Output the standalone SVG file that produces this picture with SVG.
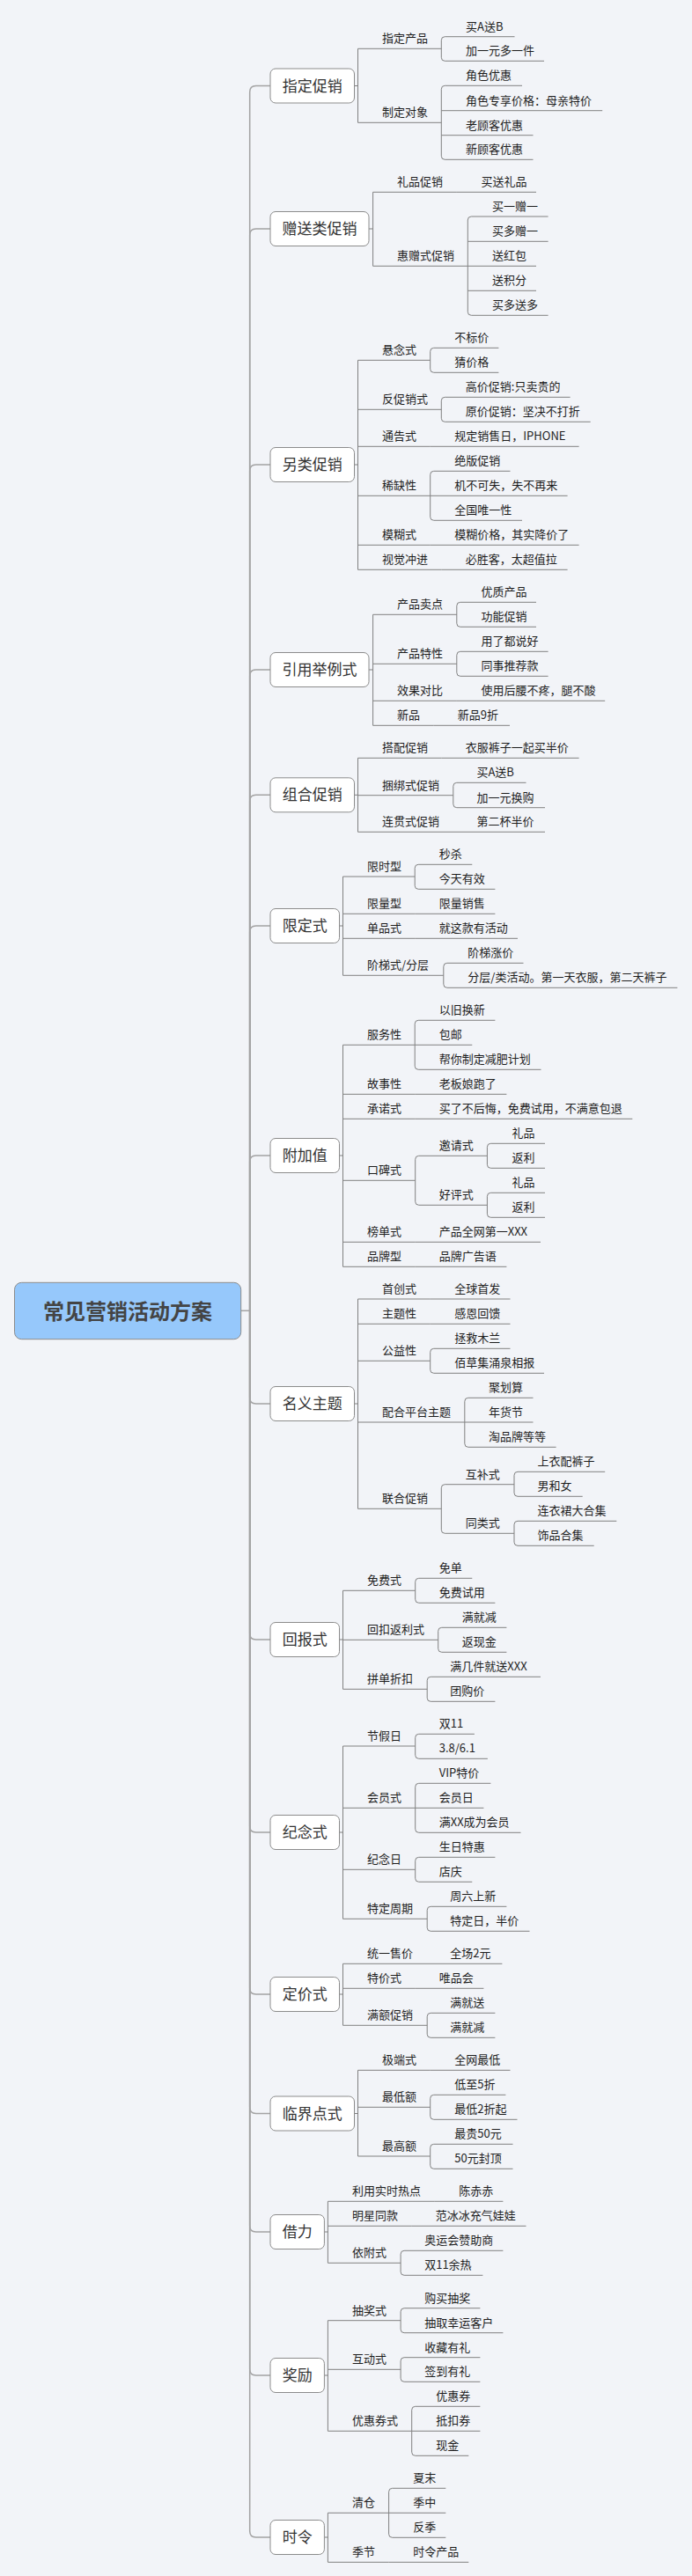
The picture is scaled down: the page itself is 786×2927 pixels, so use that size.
<svg xmlns="http://www.w3.org/2000/svg" width="786" height="2927" viewBox="0 0 786 2927">
<style>
.bg{fill:#f2f4f8}
.m{fill:none;stroke:#a3a3a3;stroke-width:1.5}
.c{fill:none;stroke:#808080;stroke-width:1}
.u{fill:none;stroke:#808080;stroke-width:1}
.box{fill:#ffffff;stroke:#8c8c8c;stroke-width:1}
.rootbox{fill:#96c8fb;stroke:#8c8c8c;stroke-width:1}
text{font-family:"Noto Sans CJK SC","Noto Sans",sans-serif}
.t{font-size:13px;fill:#1e1e1e}
.mt{font-size:17px;fill:#333333;text-anchor:middle}
.rt{font-size:24px;font-weight:bold;fill:#444444;text-anchor:middle}
</style>
<rect class="bg" x="0" y="0" width="786" height="2927"/>
<g id="connectors">
<path class="m" d="M273.7 1489.3H283.7"/>
<path class="m" d="M283.7 1489.3V104.5Q283.7 97.5 290.7 97.5H307"/>
<path class="m" d="M283.7 1489.3V267Q283.7 260 290.7 260H307"/>
<path class="m" d="M283.7 1489.3V535Q283.7 528 290.7 528H307"/>
<path class="m" d="M283.7 1489.3V768Q283.7 761 290.7 761H307"/>
<path class="m" d="M283.7 1489.3V910.3Q283.7 903.3 290.7 903.3H307"/>
<path class="m" d="M283.7 1489.3V1059Q283.7 1052 290.7 1052H307"/>
<path class="m" d="M283.7 1489.3V1320Q283.7 1313 290.7 1313H307"/>
<path class="m" d="M283.7 1489.3V1588Q283.7 1595 290.7 1595H307"/>
<path class="m" d="M283.7 1489.3V1856Q283.7 1863 290.7 1863H307"/>
<path class="m" d="M283.7 1489.3V2075Q283.7 2082 290.7 2082H307"/>
<path class="m" d="M283.7 1489.3V2259Q283.7 2266 290.7 2266H307"/>
<path class="m" d="M283.7 1489.3V2394.5Q283.7 2401.5 290.7 2401.5H307"/>
<path class="m" d="M283.7 1489.3V2529Q283.7 2536 290.7 2536H307"/>
<path class="m" d="M283.7 1489.3V2692Q283.7 2699 290.7 2699H307"/>
<path class="m" d="M283.7 1489.3V2876Q283.7 2883 290.7 2883H307"/>
<path class="c" d="M402.5 97.5H406.5M406.5 55.3V139.3"/>
<path class="c" d="M419 260H423.6M423.6 218.3V302.3"/>
<path class="c" d="M402.5 528H406.5M406.5 409.3V647.3"/>
<path class="c" d="M419 761H423.6M423.6 698.3V824.3"/>
<path class="c" d="M402.5 903.3H406.5M406.5 861.3V945.3"/>
<path class="c" d="M385.5 1052H389.5M389.5 996V1108.3"/>
<path class="c" d="M385.5 1313H389.5M389.5 1187.3V1439.3"/>
<path class="c" d="M402.5 1595H406.5M406.5 1476V1714.3"/>
<path class="c" d="M385.5 1863H389.5M389.5 1807.3V1919.3"/>
<path class="c" d="M385.5 2082H389.5M389.5 1984V2180.3"/>
<path class="c" d="M385.5 2266H389.5M389.5 2231.3V2301.3"/>
<path class="c" d="M402.5 2401.5H406.5M406.5 2352.3V2450"/>
<path class="c" d="M368.4 2536H372.4M372.4 2501.3V2571.3"/>
<path class="c" d="M368.4 2699H372.4M372.4 2636.7V2762.3"/>
<path class="c" d="M368.4 2883H372.4M372.4 2855.3V2911.3"/>
<path class="c" d="M505.3 41.7Q501.3 41.7 501.3 45.7V65.3Q501.3 69.3 505.3 69.3"/>
<path class="c" d="M505.3 97.3Q501.3 97.3 501.3 101.3V177.3Q501.3 181.3 505.3 181.3"/>
<path class="c" d="M535.3 246Q531.3 246 531.3 250V354.3Q531.3 358.3 535.3 358.3"/>
<path class="c" d="M492.7 395.3Q488.7 395.3 488.7 399.3V419.3Q488.7 423.3 492.7 423.3"/>
<path class="c" d="M505.3 451.3Q501.3 451.3 501.3 455.3V475.3Q501.3 479.3 505.3 479.3"/>
<path class="c" d="M492.7 535.3Q488.7 535.3 488.7 539.3V587.3Q488.7 591.3 492.7 591.3"/>
<path class="c" d="M522.8 684.3Q518.8 684.3 518.8 688.3V708.3Q518.8 712.3 522.8 712.3"/>
<path class="c" d="M522.8 740.3Q518.8 740.3 518.8 744.3V764.3Q518.8 768.3 522.8 768.3"/>
<path class="c" d="M518.8 889.3Q514.8 889.3 514.8 893.3V913.7Q514.8 917.7 518.8 917.7"/>
<path class="c" d="M475.2 982.3Q471.2 982.3 471.2 986.3V1006.3Q471.2 1010.3 475.2 1010.3"/>
<path class="c" d="M507.8 1094.3Q503.8 1094.3 503.8 1098.3V1118.3Q503.8 1122.3 507.8 1122.3"/>
<path class="c" d="M475.2 1159.3Q471.2 1159.3 471.2 1163.3V1211.3Q471.2 1215.3 475.2 1215.3"/>
<path class="c" d="M475.7 1313.3Q471.7 1313.3 471.7 1317.3V1365.3Q471.7 1369.3 475.7 1369.3"/>
<path class="c" d="M557.4 1299.3Q553.4 1299.3 553.4 1303.3V1323.3Q553.4 1327.3 557.4 1327.3"/>
<path class="c" d="M557.4 1355.3Q553.4 1355.3 553.4 1359.3V1379.3Q553.4 1383.3 557.4 1383.3"/>
<path class="c" d="M492.7 1532.3Q488.7 1532.3 488.7 1536.3V1556.3Q488.7 1560.3 492.7 1560.3"/>
<path class="c" d="M531.8 1588.3Q527.8 1588.3 527.8 1592.3V1640.3Q527.8 1644.3 531.8 1644.3"/>
<path class="c" d="M505.3 1686.7Q501.3 1686.7 501.3 1690.7V1738.3Q501.3 1742.3 505.3 1742.3"/>
<path class="c" d="M588 1672.3Q584 1672.3 584 1676.3V1696.3Q584 1700.3 588 1700.3"/>
<path class="c" d="M588 1728.3Q584 1728.3 584 1732.3V1752.3Q584 1756.3 588 1756.3"/>
<path class="c" d="M475.7 1793.3Q471.7 1793.3 471.7 1797.3V1817.3Q471.7 1821.3 475.7 1821.3"/>
<path class="c" d="M501.7 1849.3Q497.7 1849.3 497.7 1853.3V1873.3Q497.7 1877.3 501.7 1877.3"/>
<path class="c" d="M489.2 1905.3Q485.2 1905.3 485.2 1909.3V1929.3Q485.2 1933.3 489.2 1933.3"/>
<path class="c" d="M475.7 1970.3Q471.7 1970.3 471.7 1974.3V1994.3Q471.7 1998.3 475.7 1998.3"/>
<path class="c" d="M475.7 2026.3Q471.7 2026.3 471.7 2030.3V2078.3Q471.7 2082.3 475.7 2082.3"/>
<path class="c" d="M475.7 2110.3Q471.7 2110.3 471.7 2114.3V2134.3Q471.7 2138.3 475.7 2138.3"/>
<path class="c" d="M489.2 2166.3Q485.2 2166.3 485.2 2170.3V2190.3Q485.2 2194.3 489.2 2194.3"/>
<path class="c" d="M489.2 2287.3Q485.2 2287.3 485.2 2291.3V2311.3Q485.2 2315.3 489.2 2315.3"/>
<path class="c" d="M492.7 2380.3Q488.7 2380.3 488.7 2384.3V2404.3Q488.7 2408.3 492.7 2408.3"/>
<path class="c" d="M492.7 2436.3Q488.7 2436.3 488.7 2440.3V2460.3Q488.7 2464.3 492.7 2464.3"/>
<path class="c" d="M459.1 2557.3Q455.1 2557.3 455.1 2561.3V2581.3Q455.1 2585.3 459.1 2585.3"/>
<path class="c" d="M459.1 2622.7Q455.1 2622.7 455.1 2626.7V2646.7Q455.1 2650.7 459.1 2650.7"/>
<path class="c" d="M459.1 2678.7Q455.1 2678.7 455.1 2682.7V2702.3Q455.1 2706.3 459.1 2706.3"/>
<path class="c" d="M471.7 2734.3Q467.7 2734.3 467.7 2738.3V2786.3Q467.7 2790.3 471.7 2790.3"/>
<path class="c" d="M445.6 2827.3Q441.6 2827.3 441.6 2831.3V2879.3Q441.6 2883.3 445.6 2883.3"/>
</g>
<g id="root"><rect class="rootbox" x="16.5" y="1457.3" width="257.2" height="64.4" rx="8"/><text class="rt" x="145.1" y="1498.5">常见营销活动方案</text></g>
<g id="b1"><rect class="box" x="307" y="78" width="95.5" height="39" rx="6"/><text class="mt" x="354.8" y="103.5">指定促销</text></g>
<g id="b2"><rect class="box" x="307" y="240.5" width="112" height="39" rx="6"/><text class="mt" x="363" y="266">赠送类促销</text></g>
<g id="b3"><rect class="box" x="307" y="508.5" width="95.5" height="39" rx="6"/><text class="mt" x="354.8" y="534">另类促销</text></g>
<g id="b4"><rect class="box" x="307" y="741.5" width="112" height="39" rx="6"/><text class="mt" x="363" y="767">引用举例式</text></g>
<g id="b5"><rect class="box" x="307" y="883.8" width="95.5" height="39" rx="6"/><text class="mt" x="354.8" y="909.3">组合促销</text></g>
<g id="b6"><rect class="box" x="307" y="1032.5" width="78.5" height="39" rx="6"/><text class="mt" x="346.3" y="1058">限定式</text></g>
<g id="b7"><rect class="box" x="307" y="1293.5" width="78.5" height="39" rx="6"/><text class="mt" x="346.3" y="1319">附加值</text></g>
<g id="b8"><rect class="box" x="307" y="1575.5" width="95.5" height="39" rx="6"/><text class="mt" x="354.8" y="1601">名义主题</text></g>
<g id="b9"><rect class="box" x="307" y="1843.5" width="78.5" height="39" rx="6"/><text class="mt" x="346.3" y="1869">回报式</text></g>
<g id="b10"><rect class="box" x="307" y="2062.5" width="78.5" height="39" rx="6"/><text class="mt" x="346.3" y="2088">纪念式</text></g>
<g id="b11"><rect class="box" x="307" y="2246.5" width="78.5" height="39" rx="6"/><text class="mt" x="346.3" y="2272">定价式</text></g>
<g id="b12"><rect class="box" x="307" y="2382" width="95.5" height="39" rx="6"/><text class="mt" x="354.8" y="2407.5">临界点式</text></g>
<g id="b13"><rect class="box" x="307" y="2516.5" width="61.4" height="39" rx="6"/><text class="mt" x="337.7" y="2542">借力</text></g>
<g id="b14"><rect class="box" x="307" y="2679.5" width="61.4" height="39" rx="6"/><text class="mt" x="337.7" y="2705">奖励</text></g>
<g id="b15"><rect class="box" x="307" y="2863.5" width="61.4" height="39" rx="6"/><text class="mt" x="337.7" y="2889">时令</text></g>

<g id="n1-1"><path class="u" d="M406.5 55.3H501.3"/><text class="t" x="434" y="48.3">指定产品</text></g>
<g id="n1-1-1"><path class="u" d="M505.3 41.7H584.5"/><text class="t" x="529" y="34.7">买A送B</text></g>
<g id="n1-1-2"><path class="u" d="M505.3 69.3H618"/><text class="t" x="529" y="62.3">加一元多一件</text></g>
<g id="n1-2"><path class="u" d="M406.5 139.3H501.3"/><text class="t" x="434" y="132.3">制定对象</text></g>
<g id="n1-2-1"><path class="u" d="M505.3 97.3H593"/><text class="t" x="529" y="90.3">角色优惠</text></g>
<g id="n1-2-2"><path class="u" d="M501.3 125.7H684.2"/><text class="t" x="529" y="118.7">角色专享价格：母亲特价</text></g>
<g id="n1-2-3"><path class="u" d="M501.3 153.7H605.5"/><text class="t" x="529" y="146.7">老顾客优惠</text></g>
<g id="n1-2-4"><path class="u" d="M505.3 181.3H605.5"/><text class="t" x="529" y="174.3">新顾客优惠</text></g>

<g id="n2-1"><path class="u" d="M423.6 218.3H518.9"/><text class="t" x="451" y="211.3">礼品促销</text></g>
<g id="n2-1-1"><path class="u" d="M518.9 218.3H609"/><text class="t" x="546.4" y="211.3">买送礼品</text></g>
<g id="n2-2"><path class="u" d="M423.6 302.3H531.3"/><text class="t" x="451" y="295.3">惠赠式促销</text></g>
<g id="n2-2-1"><path class="u" d="M535.3 246H622.6"/><text class="t" x="559" y="239">买一赠一</text></g>
<g id="n2-2-2"><path class="u" d="M531.3 274.3H622.6"/><text class="t" x="559" y="267.3">买多赠一</text></g>
<g id="n2-2-3"><path class="u" d="M531.3 302.3H609"/><text class="t" x="559" y="295.3">送红包</text></g>
<g id="n2-2-4"><path class="u" d="M531.3 330.3H609"/><text class="t" x="559" y="323.3">送积分</text></g>
<g id="n2-2-5"><path class="u" d="M535.3 358.3H622.6"/><text class="t" x="559" y="351.3">买多送多</text></g>

<g id="n3-1"><path class="u" d="M406.5 409.3H488.7"/><text class="t" x="434" y="402.3">悬念式</text></g>
<g id="n3-1-1"><path class="u" d="M492.7 395.3H566.4"/><text class="t" x="516.3" y="388.3">不标价</text></g>
<g id="n3-1-2"><path class="u" d="M492.7 423.3H566.4"/><text class="t" x="516.3" y="416.3">猜价格</text></g>
<g id="n3-2"><path class="u" d="M406.5 465.3H501.3"/><text class="t" x="434" y="458.3">反促销式</text></g>
<g id="n3-2-1"><path class="u" d="M505.3 451.3H647.6"/><text class="t" x="528.8" y="444.3">高价促销:只卖贵的</text></g>
<g id="n3-2-2"><path class="u" d="M505.3 479.3H670.7"/><text class="t" x="528.8" y="472.3">原价促销：坚决不打折</text></g>
<g id="n3-3"><path class="u" d="M406.5 507.3H488.8"/><text class="t" x="434" y="500.3">通告式</text></g>
<g id="n3-3-1"><path class="u" d="M488.8 507.3H657.6"/><text class="t" x="516.3" y="500.3">规定销售日，IPHONE</text></g>
<g id="n3-4"><path class="u" d="M406.5 563.3H488.7"/><text class="t" x="434" y="556.3">稀缺性</text></g>
<g id="n3-4-1"><path class="u" d="M492.7 535.3H579.5"/><text class="t" x="516.3" y="528.3">绝版促销</text></g>
<g id="n3-4-2"><path class="u" d="M488.7 563.3H644.6"/><text class="t" x="516.3" y="556.3">机不可失，失不再来</text></g>
<g id="n3-4-3"><path class="u" d="M492.7 591.3H593"/><text class="t" x="516.3" y="584.3">全国唯一性</text></g>
<g id="n3-5"><path class="u" d="M406.5 619.3H488.8"/><text class="t" x="434" y="612.3">模糊式</text></g>
<g id="n3-5-1"><path class="u" d="M488.8 619.3H657.6"/><text class="t" x="516.3" y="612.3">模糊价格，其实降价了</text></g>
<g id="n3-6"><path class="u" d="M406.5 647.3H501.3"/><text class="t" x="434" y="640.3">视觉冲进</text></g>
<g id="n3-6-1"><path class="u" d="M501.3 647.3H644.6"/><text class="t" x="528.8" y="640.3">必胜客，太超值拉</text></g>

<g id="n4-1"><path class="u" d="M423.6 698.3H518.8"/><text class="t" x="451" y="691.3">产品卖点</text></g>
<g id="n4-1-1"><path class="u" d="M522.8 684.3H609"/><text class="t" x="546.4" y="677.3">优质产品</text></g>
<g id="n4-1-2"><path class="u" d="M522.8 712.3H609"/><text class="t" x="546.4" y="705.3">功能促销</text></g>
<g id="n4-2"><path class="u" d="M423.6 754.3H518.8"/><text class="t" x="451" y="747.3">产品特性</text></g>
<g id="n4-2-1"><path class="u" d="M522.8 740.3H622.6"/><text class="t" x="546.4" y="733.3">用了都说好</text></g>
<g id="n4-2-2"><path class="u" d="M522.8 768.3H622.6"/><text class="t" x="546.4" y="761.3">同事推荐款</text></g>
<g id="n4-3"><path class="u" d="M423.6 796.3H518.9"/><text class="t" x="451" y="789.3">效果对比</text></g>
<g id="n4-3-1"><path class="u" d="M518.9 796.3H687.2"/><text class="t" x="546.4" y="789.3">使用后腰不疼，腿不酸</text></g>
<g id="n4-4"><path class="u" d="M423.6 824.3H492.3"/><text class="t" x="451" y="817.3">新品</text></g>
<g id="n4-4-1"><path class="u" d="M492.3 824.3H579"/><text class="t" x="519.8" y="817.3">新品9折</text></g>

<g id="n5-1"><path class="u" d="M406.5 861.3H501.3"/><text class="t" x="434" y="854.3">搭配促销</text></g>
<g id="n5-1-1"><path class="u" d="M501.3 861.3H657.6"/><text class="t" x="528.8" y="854.3">衣服裤子一起买半价</text></g>
<g id="n5-2"><path class="u" d="M406.5 903.7H514.8"/><text class="t" x="434" y="896.7">捆绑式促销</text></g>
<g id="n5-2-1"><path class="u" d="M518.8 889.3H597.5"/><text class="t" x="541.4" y="882.3">买A送B</text></g>
<g id="n5-2-2"><path class="u" d="M518.8 917.7H619"/><text class="t" x="541.4" y="910.7">加一元换购</text></g>
<g id="n5-3"><path class="u" d="M406.5 945.3H514"/><text class="t" x="434" y="938.3">连贯式促销</text></g>
<g id="n5-3-1"><path class="u" d="M514 945.3H619"/><text class="t" x="541.4" y="938.3">第二杯半价</text></g>

<g id="n6-1"><path class="u" d="M389.5 996H471.2"/><text class="t" x="417" y="989">限时型</text></g>
<g id="n6-1-1"><path class="u" d="M475.2 982.3H536.3"/><text class="t" x="498.7" y="975.3">秒杀</text></g>
<g id="n6-1-2"><path class="u" d="M475.2 1010.3H562.4"/><text class="t" x="498.7" y="1003.3">今天有效</text></g>
<g id="n6-2"><path class="u" d="M389.5 1038.3H471.2"/><text class="t" x="417" y="1031.3">限量型</text></g>
<g id="n6-2-1"><path class="u" d="M471.2 1038.3H562.4"/><text class="t" x="498.7" y="1031.3">限量销售</text></g>
<g id="n6-3"><path class="u" d="M389.5 1066.3H471.2"/><text class="t" x="417" y="1059.3">单品式</text></g>
<g id="n6-3-1"><path class="u" d="M471.2 1066.3H588"/><text class="t" x="498.7" y="1059.3">就这款有活动</text></g>
<g id="n6-4"><path class="u" d="M389.5 1108.3H503.8"/><text class="t" x="417" y="1101.3">阶梯式/分层</text></g>
<g id="n6-4-1"><path class="u" d="M507.8 1094.3H594.5"/><text class="t" x="531.3" y="1087.3">阶梯涨价</text></g>
<g id="n6-4-2"><path class="u" d="M507.8 1122.3H769.4"/><text class="t" x="531.3" y="1115.3">分层/类活动。第一天衣服，第二天裤子</text></g>

<g id="n7-1"><path class="u" d="M389.5 1187.3H471.2"/><text class="t" x="417" y="1180.3">服务性</text></g>
<g id="n7-1-1"><path class="u" d="M475.2 1159.3H562.4"/><text class="t" x="498.7" y="1152.3">以旧换新</text></g>
<g id="n7-1-2"><path class="u" d="M471.2 1187.3H536.3"/><text class="t" x="498.7" y="1180.3">包邮</text></g>
<g id="n7-1-3"><path class="u" d="M475.2 1215.3H614.5"/><text class="t" x="498.7" y="1208.3">帮你制定减肥计划</text></g>
<g id="n7-2"><path class="u" d="M389.5 1243.3H471.2"/><text class="t" x="417" y="1236.3">故事性</text></g>
<g id="n7-2-1"><path class="u" d="M471.2 1243.3H575.4"/><text class="t" x="498.7" y="1236.3">老板娘跑了</text></g>
<g id="n7-3"><path class="u" d="M389.5 1271.3H471.2"/><text class="t" x="417" y="1264.3">承诺式</text></g>
<g id="n7-3-1"><path class="u" d="M471.2 1271.3H718.3"/><text class="t" x="498.7" y="1264.3">买了不后悔，免费试用，不满意包退</text></g>
<g id="n7-4"><path class="u" d="M389.5 1341.3H471.7"/><text class="t" x="417" y="1334.3">口碑式</text></g>
<g id="n7-4-1"><path class="u" d="M475.7 1313.3H553.4"/><text class="t" x="498.7" y="1306.3">邀请式</text></g>
<g id="n7-4-1-1"><path class="u" d="M557.4 1299.3H619"/><text class="t" x="581.5" y="1292.3">礼品</text></g>
<g id="n7-4-1-2"><path class="u" d="M557.4 1327.3H619"/><text class="t" x="581.5" y="1320.3">返利</text></g>
<g id="n7-4-2"><path class="u" d="M475.7 1369.3H553.4"/><text class="t" x="498.7" y="1362.3">好评式</text></g>
<g id="n7-4-2-1"><path class="u" d="M557.4 1355.3H619"/><text class="t" x="581.5" y="1348.3">礼品</text></g>
<g id="n7-4-2-2"><path class="u" d="M557.4 1383.3H619"/><text class="t" x="581.5" y="1376.3">返利</text></g>
<g id="n7-5"><path class="u" d="M389.5 1411.3H471.2"/><text class="t" x="417" y="1404.3">榜单式</text></g>
<g id="n7-5-1"><path class="u" d="M471.2 1411.3H614"/><text class="t" x="498.7" y="1404.3">产品全网第一XXX</text></g>
<g id="n7-6"><path class="u" d="M389.5 1439.3H471.2"/><text class="t" x="417" y="1432.3">品牌型</text></g>
<g id="n7-6-1"><path class="u" d="M471.2 1439.3H575.4"/><text class="t" x="498.7" y="1432.3">品牌广告语</text></g>

<g id="n8-1"><path class="u" d="M406.5 1476H488.8"/><text class="t" x="434" y="1469">首创式</text></g>
<g id="n8-1-1"><path class="u" d="M488.8 1476H579.5"/><text class="t" x="516.3" y="1469">全球首发</text></g>
<g id="n8-2"><path class="u" d="M406.5 1504.3H488.8"/><text class="t" x="434" y="1497.3">主题性</text></g>
<g id="n8-2-1"><path class="u" d="M488.8 1504.3H579.5"/><text class="t" x="516.3" y="1497.3">感恩回馈</text></g>
<g id="n8-3"><path class="u" d="M406.5 1546.3H488.7"/><text class="t" x="434" y="1539.3">公益性</text></g>
<g id="n8-3-1"><path class="u" d="M492.7 1532.3H579.5"/><text class="t" x="516.3" y="1525.3">拯救木兰</text></g>
<g id="n8-3-2"><path class="u" d="M492.7 1560.3H618"/><text class="t" x="516.3" y="1553.3">佰草集涌泉相报</text></g>
<g id="n8-4"><path class="u" d="M406.5 1616H527.8"/><text class="t" x="434" y="1609">配合平台主题</text></g>
<g id="n8-4-1"><path class="u" d="M531.8 1588.3H605.5"/><text class="t" x="554.9" y="1581.3">聚划算</text></g>
<g id="n8-4-2"><path class="u" d="M527.8 1616H605.5"/><text class="t" x="554.9" y="1609">年货节</text></g>
<g id="n8-4-3"><path class="u" d="M531.8 1644.3H631.6"/><text class="t" x="554.9" y="1637.3">淘品牌等等</text></g>
<g id="n8-5"><path class="u" d="M406.5 1714.3H501.3"/><text class="t" x="434" y="1707.3">联合促销</text></g>
<g id="n8-5-1"><path class="u" d="M505.3 1686.7H584"/><text class="t" x="528.8" y="1679.7">互补式</text></g>
<g id="n8-5-1-1"><path class="u" d="M588 1672.3H687.2"/><text class="t" x="610.5" y="1665.3">上衣配裤子</text></g>
<g id="n8-5-1-2"><path class="u" d="M588 1700.3H661.7"/><text class="t" x="610.5" y="1693.3">男和女</text></g>
<g id="n8-5-2"><path class="u" d="M505.3 1742.3H584"/><text class="t" x="528.8" y="1735.3">同类式</text></g>
<g id="n8-5-2-1"><path class="u" d="M588 1728.3H700.3"/><text class="t" x="610.5" y="1721.3">连衣裙大合集</text></g>
<g id="n8-5-2-2"><path class="u" d="M588 1756.3H674.7"/><text class="t" x="610.5" y="1749.3">饰品合集</text></g>

<g id="n9-1"><path class="u" d="M389.5 1807.3H471.7"/><text class="t" x="417" y="1800.3">免费式</text></g>
<g id="n9-1-1"><path class="u" d="M475.7 1793.3H536.3"/><text class="t" x="498.7" y="1786.3">免单</text></g>
<g id="n9-1-2"><path class="u" d="M475.7 1821.3H562.4"/><text class="t" x="498.7" y="1814.3">免费试用</text></g>
<g id="n9-2"><path class="u" d="M389.5 1863.3H497.7"/><text class="t" x="417" y="1856.3">回扣返利式</text></g>
<g id="n9-2-1"><path class="u" d="M501.7 1849.3H575.4"/><text class="t" x="524.8" y="1842.3">满就减</text></g>
<g id="n9-2-2"><path class="u" d="M501.7 1877.3H575.4"/><text class="t" x="524.8" y="1870.3">返现金</text></g>
<g id="n9-3"><path class="u" d="M389.5 1919.3H485.2"/><text class="t" x="417" y="1912.3">拼单折扣</text></g>
<g id="n9-3-1"><path class="u" d="M489.2 1905.3H614"/><text class="t" x="511.3" y="1898.3">满几件就送XXX</text></g>
<g id="n9-3-2"><path class="u" d="M489.2 1933.3H562.4"/><text class="t" x="511.3" y="1926.3">团购价</text></g>

<g id="n10-1"><path class="u" d="M389.5 1984H471.7"/><text class="t" x="417" y="1977">节假日</text></g>
<g id="n10-1-1"><path class="u" d="M475.7 1970.3H538.9"/><text class="t" x="498.7" y="1963.3">双11</text></g>
<g id="n10-1-2"><path class="u" d="M475.7 1998.3H553.9"/><text class="t" x="498.7" y="1991.3">3.8/6.1</text></g>
<g id="n10-2"><path class="u" d="M389.5 2054.3H471.7"/><text class="t" x="417" y="2047.3">会员式</text></g>
<g id="n10-2-1"><path class="u" d="M475.7 2026.3H557.4"/><text class="t" x="498.7" y="2019.3">VIP特价</text></g>
<g id="n10-2-2"><path class="u" d="M471.7 2054.3H549.4"/><text class="t" x="498.7" y="2047.3">会员日</text></g>
<g id="n10-2-3"><path class="u" d="M475.7 2082.3H591.5"/><text class="t" x="498.7" y="2075.3">满XX成为会员</text></g>
<g id="n10-3"><path class="u" d="M389.5 2124.3H471.7"/><text class="t" x="417" y="2117.3">纪念日</text></g>
<g id="n10-3-1"><path class="u" d="M475.7 2110.3H562.4"/><text class="t" x="498.7" y="2103.3">生日特惠</text></g>
<g id="n10-3-2"><path class="u" d="M475.7 2138.3H536.3"/><text class="t" x="498.7" y="2131.3">店庆</text></g>
<g id="n10-4"><path class="u" d="M389.5 2180.3H485.2"/><text class="t" x="417" y="2173.3">特定周期</text></g>
<g id="n10-4-1"><path class="u" d="M489.2 2166.3H575.4"/><text class="t" x="511.3" y="2159.3">周六上新</text></g>
<g id="n10-4-2"><path class="u" d="M489.2 2194.3H601.5"/><text class="t" x="511.3" y="2187.3">特定日，半价</text></g>

<g id="n11-1"><path class="u" d="M389.5 2231.3H484"/><text class="t" x="417" y="2224.3">统一售价</text></g>
<g id="n11-1-1"><path class="u" d="M484 2231.3H570.4"/><text class="t" x="511.3" y="2224.3">全场2元</text></g>
<g id="n11-2"><path class="u" d="M389.5 2259.3H471.2"/><text class="t" x="417" y="2252.3">特价式</text></g>
<g id="n11-2-1"><path class="u" d="M471.2 2259.3H549.4"/><text class="t" x="498.7" y="2252.3">唯品会</text></g>
<g id="n11-3"><path class="u" d="M389.5 2301.3H485.2"/><text class="t" x="417" y="2294.3">满额促销</text></g>
<g id="n11-3-1"><path class="u" d="M489.2 2287.3H562.4"/><text class="t" x="511.3" y="2280.3">满就送</text></g>
<g id="n11-3-2"><path class="u" d="M489.2 2315.3H562.4"/><text class="t" x="511.3" y="2308.3">满就减</text></g>

<g id="n12-1"><path class="u" d="M406.5 2352.3H488.8"/><text class="t" x="434" y="2345.3">极端式</text></g>
<g id="n12-1-1"><path class="u" d="M488.8 2352.3H579.5"/><text class="t" x="516.3" y="2345.3">全网最低</text></g>
<g id="n12-2"><path class="u" d="M406.5 2394.3H488.7"/><text class="t" x="434" y="2387.3">最低额</text></g>
<g id="n12-2-1"><path class="u" d="M492.7 2380.3H574.4"/><text class="t" x="516.3" y="2373.3">低至5折</text></g>
<g id="n12-2-2"><path class="u" d="M492.7 2408.3H587.5"/><text class="t" x="516.3" y="2401.3">最低2折起</text></g>
<g id="n12-3"><path class="u" d="M406.5 2450H488.7"/><text class="t" x="434" y="2443">最高额</text></g>
<g id="n12-3-1"><path class="u" d="M492.7 2436.3H582.5"/><text class="t" x="516.3" y="2429.3">最贵50元</text></g>
<g id="n12-3-2"><path class="u" d="M492.7 2464.3H582.5"/><text class="t" x="516.3" y="2457.3">50元封顶</text></g>

<g id="n13-1"><path class="u" d="M372.4 2501.3H493.8"/><text class="t" x="400" y="2494.3">利用实时热点</text></g>
<g id="n13-1-1"><path class="u" d="M493.8 2501.3H571.4"/><text class="t" x="521.3" y="2494.3">陈赤赤</text></g>
<g id="n13-2"><path class="u" d="M372.4 2529.3H467.2"/><text class="t" x="400" y="2522.3">明星同款</text></g>
<g id="n13-2-1"><path class="u" d="M467.2 2529.3H597.5"/><text class="t" x="494.7" y="2522.3">范冰冰充气娃娃</text></g>
<g id="n13-3"><path class="u" d="M372.4 2571.3H455.1"/><text class="t" x="400" y="2564.3">依附式</text></g>
<g id="n13-3-1"><path class="u" d="M459.1 2557.3H571.4"/><text class="t" x="482.2" y="2550.3">奥运会赞助商</text></g>
<g id="n13-3-2"><path class="u" d="M459.1 2585.3H548.4"/><text class="t" x="482.2" y="2578.3">双11余热</text></g>

<g id="n14-1"><path class="u" d="M372.4 2636.7H455.1"/><text class="t" x="400" y="2629.7">抽奖式</text></g>
<g id="n14-1-1"><path class="u" d="M459.1 2622.7H545.4"/><text class="t" x="482.2" y="2615.7">购买抽奖</text></g>
<g id="n14-1-2"><path class="u" d="M459.1 2650.7H571.4"/><text class="t" x="482.2" y="2643.7">抽取幸运客户</text></g>
<g id="n14-2"><path class="u" d="M372.4 2692.3H455.1"/><text class="t" x="400" y="2685.3">互动式</text></g>
<g id="n14-2-1"><path class="u" d="M459.1 2678.7H545.4"/><text class="t" x="482.2" y="2671.7">收藏有礼</text></g>
<g id="n14-2-2"><path class="u" d="M459.1 2706.3H545.4"/><text class="t" x="482.2" y="2699.3">签到有礼</text></g>
<g id="n14-3"><path class="u" d="M372.4 2762.3H467.7"/><text class="t" x="400" y="2755.3">优惠券式</text></g>
<g id="n14-3-1"><path class="u" d="M471.7 2734.3H545.4"/><text class="t" x="495.2" y="2727.3">优惠券</text></g>
<g id="n14-3-2"><path class="u" d="M467.7 2762.3H545.4"/><text class="t" x="495.2" y="2755.3">抵扣券</text></g>
<g id="n14-3-3"><path class="u" d="M471.7 2790.3H532.3"/><text class="t" x="495.2" y="2783.3">现金</text></g>

<g id="n15-1"><path class="u" d="M372.4 2855.3H441.6"/><text class="t" x="400" y="2848.3">清仓</text></g>
<g id="n15-1-1"><path class="u" d="M445.6 2827.3H506.3"/><text class="t" x="469.2" y="2820.3">夏末</text></g>
<g id="n15-1-2"><path class="u" d="M441.6 2855.3H506.3"/><text class="t" x="469.2" y="2848.3">季中</text></g>
<g id="n15-1-3"><path class="u" d="M445.6 2883.3H506.3"/><text class="t" x="469.2" y="2876.3">反季</text></g>
<g id="n15-2"><path class="u" d="M372.4 2911.3H441.7"/><text class="t" x="400" y="2904.3">季节</text></g>
<g id="n15-2-1"><path class="u" d="M441.7 2911.3H532.3"/><text class="t" x="469.2" y="2904.3">时令产品</text></g>
</svg>
